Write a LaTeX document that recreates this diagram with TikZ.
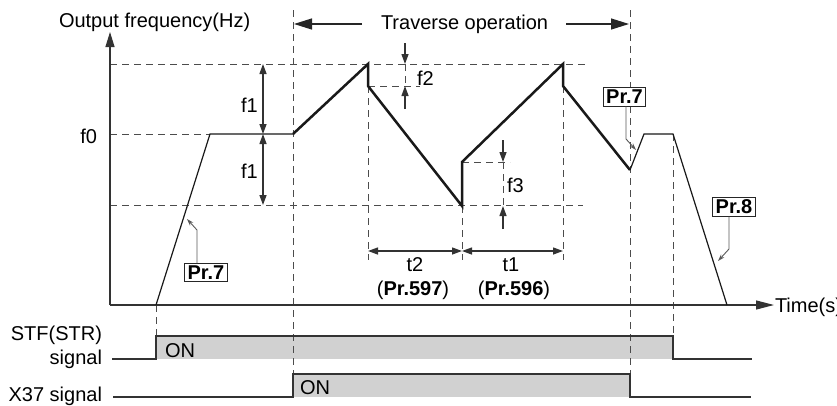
\documentclass[tikz,border=0pt]{standalone}
\usepackage{fontspec}
\setmainfont{Liberation Sans}
\usetikzlibrary{arrows.meta}
\begin{document}
\begin{tikzpicture}[x=1pt,y=-1pt,
  every node/.style={inner sep=0pt,outer sep=0pt,font=\fontsize{20}{23}\selectfont},
  axisln/.style={line width=1.2pt,draw=black!80},
  thinw/.style={line width=1.2pt,draw=black!90},
  thickw/.style={line width=2.5pt,draw=black!90,line join=miter},
  dsh/.style={line width=0.9pt,draw=black!70,dash pattern=on 7pt off 5pt},
  dimarr/.style={line width=1.3pt,draw=black!80,-{Triangle[length=10pt,width=7pt]}},
  dimboth/.style={line width=1.3pt,draw=black!80,{Triangle[length=10pt,width=7pt]}-{Triangle[length=10pt,width=7pt]}},
  travarr/.style={line width=1.3pt,draw=black!85,-{Triangle[length=18pt,width=11pt]}},
  prbox/.style={draw=black!85,line width=1pt,fill=white,inner xsep=3pt,inner ysep=2.6pt,font=\fontsize{20}{22}\selectfont\bfseries},
  leader/.style={line width=0.9pt,draw=black!65,-{Stealth[length=7pt,width=4.5pt]}},
  sigln/.style={line width=1.2pt,draw=black!80},
  sigfill/.style={fill=black!18}
]
\useasboundingbox (0,0) rectangle (837,405);

% ---- key coordinates ----
\coordinate (O) at (110,305);
\coordinate (Ytop) at (110,32);
\coordinate (Xend) at (774,305);
\coordinate (A) at (156,305);
\coordinate (B) at (210,134);
\coordinate (C) at (293,134);
\coordinate (D) at (368,64);
\coordinate (E) at (368,86);
\coordinate (F) at (462,206);
\coordinate (G) at (462,162);
\coordinate (H) at (563,64);
\coordinate (I) at (563,86);
\coordinate (J) at (630,170);
\coordinate (K) at (644,134);
\coordinate (L) at (673,134);
\coordinate (M) at (727,305);

% ---- signal fills ----
\fill[sigfill] (156,336) rectangle (673,359);
\fill[sigfill] (293,374) rectangle (630,397);

% ---- dashed guide lines ----
\draw[dsh] (110,64) -- (587,64);
\draw[dsh] (110,134) -- (B);
\draw[dsh] (110,205) -- (583,205);
\draw[dsh] (E) -- (420,86);
\draw[dsh] (G) -- (510,162);
\draw[dsh] (293,10) -- (293,374);
\draw[dsh] (630,10) -- (630,374);
\draw[dsh] (E) -- (368,260);
\draw[dsh] (F) -- (462,260);
\draw[dsh] (I) -- (563,260);
\draw[dsh] (A) -- (156,336);
\draw[dsh] (L) -- (673,336);
\draw[dsh] (405,64) -- (405,86);
\draw[dsh] (503,162) -- (503,206);

% ---- axes ----
\draw[axisln,-{Triangle[length=15pt,width=9pt]}] (O) -- (Ytop);
\draw[axisln,-{Triangle[length=18pt,width=9pt]}] (O) -- (Xend);

% ---- waveform ----
\draw[thinw] (A) -- (B) -- (C);
\draw[thickw] (C) -- (D) -- (E) -- (F) -- (G) -- (H) -- (I) -- (J);
\draw[thinw] (J) -- (K) -- (L) -- (M);

% ---- dimension arrows ----
\draw[dimboth] (263,64) -- (263,134);
\draw[dimboth] (263,134) -- (263,205);
\draw[dimarr] (405,43) -- (405,64);
\draw[dimarr] (405,109) -- (405,86);
\draw[dimarr] (503,140) -- (503,162);
\draw[dimarr] (503,229) -- (503,206);
\draw[dimboth] (368,251) -- (462,251);
\draw[dimboth] (462,251) -- (563,251);
\draw[travarr] (362,24) -- (294,24);
\draw[travarr] (566,24) -- (629,24);

% ---- texts ----
\node[anchor=base west] (tout) at (59,27) {Output frequency(Hz)};
\node[anchor=base west] (ttrav) at (381,29) {Traverse operation};
\node[anchor=base east] (tf0) at (97,143) {f0};
\node[anchor=base west] (tf1a) at (241,112) {f1};
\node[anchor=base west] (tf1b) at (241,178) {f1};
\node[anchor=base west] (tf2) at (417,85) {f2};
\node[anchor=base west] (tf3) at (507,192) {f3};
\node[anchor=base] (tt2) at (415,271) {t2};
\node[anchor=base] (tp597) at (413,295) {(\textbf{Pr.597})};
\node[anchor=base] (tt1) at (511,271) {t1};
\node[anchor=base] (tp596) at (514,295) {(\textbf{Pr.596})};
\node[anchor=base west] (ttime) at (775,312) {Time(s)};
\node[anchor=base east] (tstf) at (102,340) {STF(STR)};
\node[anchor=base east] (tsig) at (102,364) {signal};
\node[anchor=base east] (tx37) at (102,401) {X37 signal};
\node[anchor=base west] (ton1) at (165,357) {ON};
\node[anchor=base west] (ton2) at (300,394) {ON};

% ---- Pr boxes and leaders ----
\node[prbox] (pr7a) at (206,272.5) {Pr.7};
\node[prbox] (pr7b) at (624.5,97) {Pr.7};
\node[prbox] (pr8) at (734,207) {Pr.8};
\coordinate (la1) at (197,230);
\coordinate (la2) at (187,219);
\coordinate (lb1) at (626,139);
\coordinate (lb2) at (636,150);
\coordinate (lc1) at (729,249);
\coordinate (lc2) at (718,261);
\draw[leader] (pr7a.north -| la1) -- (la1) -- (la2);
\draw[leader] (pr7b.south -| lb1) -- (lb1) -- (lb2);
\draw[leader] (pr8.south -| lc1) -- (lc1) -- (lc2);

% ---- signal lines ----
\draw[sigln] (112,359) -- (156,359) -- (156,336) -- (673,336) -- (673,359) -- (752,359);
\draw[sigln] (113,397) -- (293,397) -- (293,374) -- (630,374) -- (630,397) -- (751,397);
\end{tikzpicture}
\end{document}
